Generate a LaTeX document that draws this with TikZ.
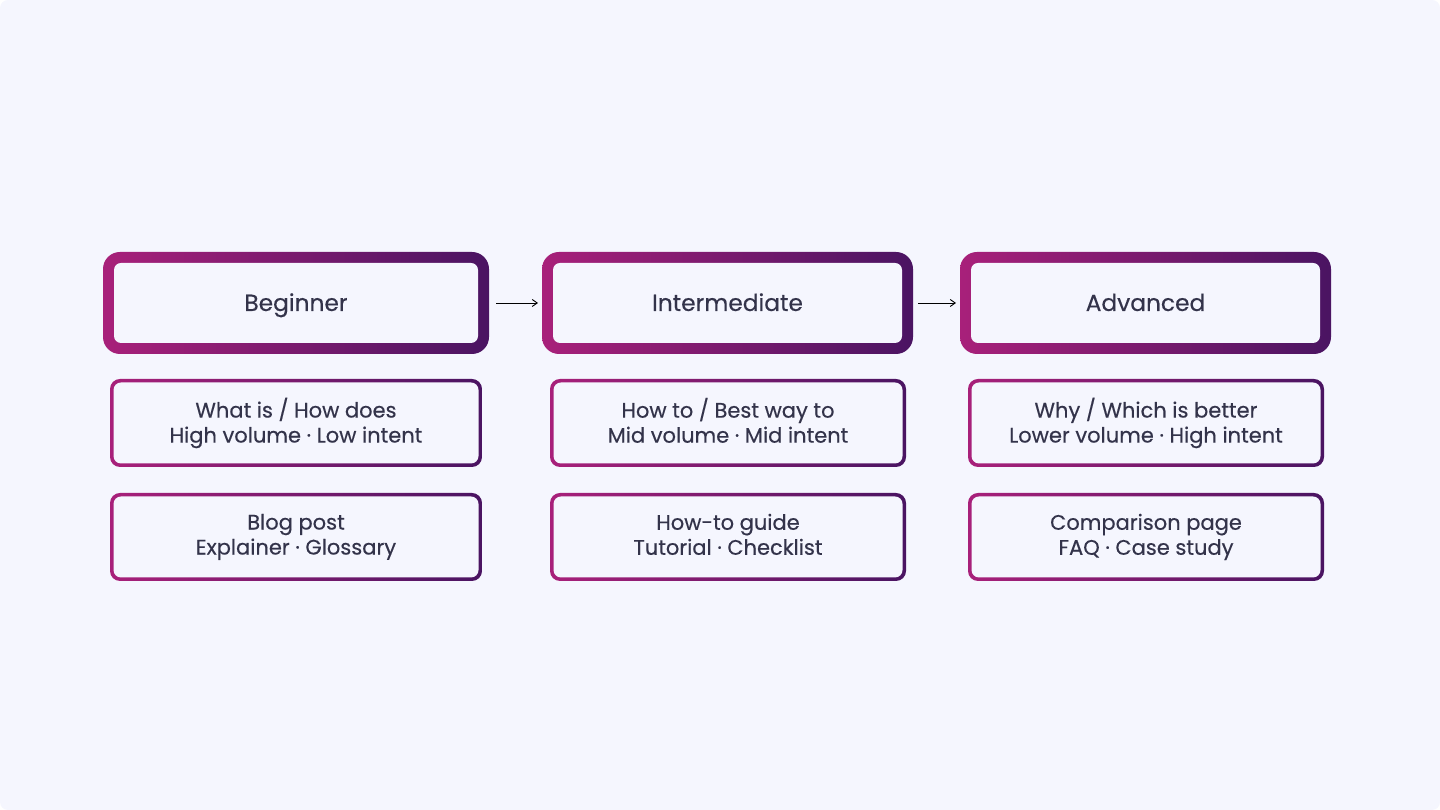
\documentclass[tikz,border=0pt]{standalone}
\usepackage{fontspec}
\setmainfont{Poppins}[FakeBold=0.35]
\usetikzlibrary{arrows.meta}
\definecolor{bg}{HTML}{F5F6FE}
\definecolor{pk}{HTML}{A8207A}
\definecolor{pu}{HTML}{4A1462}
\definecolor{tx}{HTML}{33334A}
\newcommand{\tline}[1]{\vphantom{Hy}#1}
\tikzset{
 lbl/.style={text=tx,align=center,inner sep=0pt},
 big/.style={lbl,font=\fontsize{23.3}{27}\selectfont,text height=16pt,text depth=0pt},
 small/.style={lbl,font=\fontsize{21}{25}\selectfont},
 flow/.style={-{Straight Barb[length=5pt,width=7pt]},black,line width=0.9pt}
}
% name, x1, ytop, x2, ybot, border, radius, style, text
\newcommand{\gbox}[9]{%
 \shade[left color=pk,right color=pu,rounded corners=#7pt] (#2pt,810pt-#3pt) rectangle (#4pt,810pt-#5pt);
 \fill[bg,rounded corners=#7pt-#6pt+1pt] (#2pt+#6pt,810pt-#3pt-#6pt) rectangle (#4pt-#6pt,810pt-#5pt+#6pt);
 \coordinate (#1-w) at (#2pt,810pt-#3pt/2-#5pt/2);
 \coordinate (#1-e) at (#4pt,810pt-#3pt/2-#5pt/2);
 \node[#8] (#1) at (#2pt/2+#4pt/2,810pt-#3pt/2-#5pt/2) {#9};}
\begin{document}
\begin{tikzpicture}[x=1pt,y=1pt]
\fill[bg,rounded corners=8pt] (0,0) rectangle (1440,810);
\useasboundingbox (0,0) rectangle (1440,810);
\gbox{b}{103}{252}{489}{354}{11}{17}{big}{Beginner}
\gbox{i}{542}{252}{913}{354}{11}{17}{big}{Intermediate}
\gbox{a}{960}{252}{1331}{354}{11}{17}{big}{Advanced}
\gbox{b2}{110}{379}{482}{467}{3.5}{10}{small}{\tline{What is / How does}\\\tline{High volume · Low intent}}
\gbox{i2}{550}{379}{906}{467}{3.5}{10}{small}{\tline{How to / Best way to}\\\tline{Mid volume · Mid intent}}
\gbox{a2}{968}{379}{1324}{467}{3.5}{10}{small}{\tline{Why / Which is better}\\\tline{Lower volume · High intent}}
\gbox{b3}{110}{493}{482}{581}{3.5}{10}{small}{\tline{Blog post}\\\tline{Explainer · Glossary}}
\gbox{i3}{550}{493}{906}{581}{3.5}{10}{small}{\tline{How-to guide}\\\tline{Tutorial · Checklist}}
\gbox{a3}{968}{493}{1324}{581}{3.5}{10}{small}{\tline{Comparison page}\\\tline{FAQ · Case study}}
\draw[flow] ([xshift=7pt]b-e) -- ([xshift=-4pt]i-w);
\draw[flow] ([xshift=5pt]i-e) -- ([xshift=-4pt]a-w);
\end{tikzpicture}
\end{document}
